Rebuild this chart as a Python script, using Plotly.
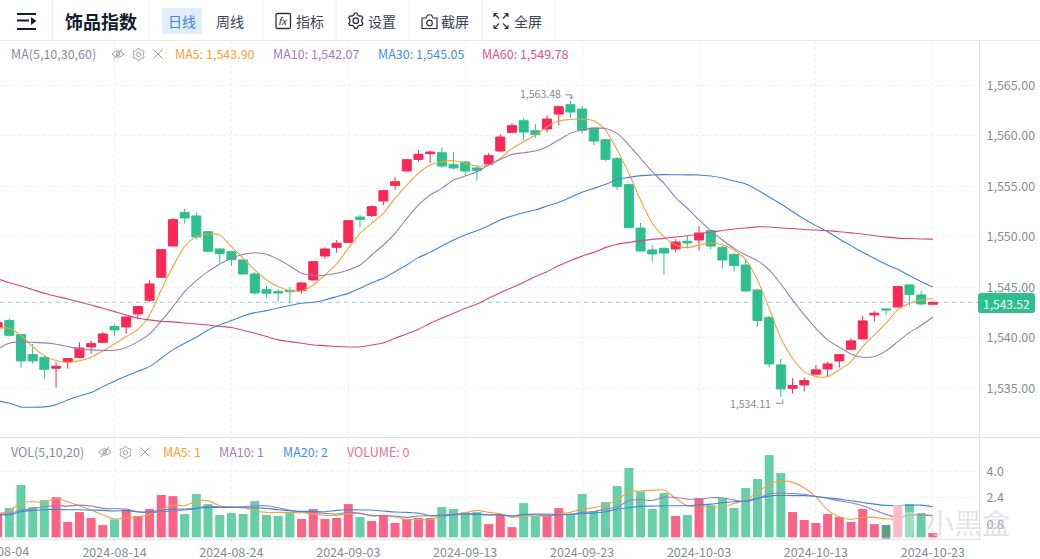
import math, re
import pandas as pd
import plotly.graph_objects as go

W, H = 1040, 559
dates = pd.date_range("2024-08-04", "2024-10-23")

opens = [
 1541.05,1541.71,1540.32,1538.34,1538.05,1536.99,1537.62,1538.05,1539.10,1539.56,
 1541.12,1541.08,1542.37,1543.72,1546.00,1549.10,1552.41,1552.08,1550.52,1548.81,
 1548.54,1547.72,1546.33,1544.78,1544.58,1544.71,1544.68,1545.74,1548.11,1548.97,
 1549.46,1551.97,1552.11,1553.56,1555.11,1556.53,1557.68,1558.25,1558.34,1557.16,
 1557.42,1556.83,1557.22,1558.51,1560.36,1561.51,1560.52,1560.69,1562.17,1563.10,
 1562.67,1560.79,1559.63,1557.75,1555.18,1550.88,1548.71,1548.87,1548.81,1549.57,
 1549.70,1550.62,1548.94,1548.25,1547.22,1544.75,1542.01,1537.32,1535.01,1535.34,
 1536.40,1536.92,1537.72,1538.87,1539.90,1542.27,1542.87,1543.06,1545.24,1544.25,
 1543.33]
highs = [
 1541.70,1541.94,1540.39,1539.40,1538.31,1537.58,1537.98,1539.56,1539.73,1540.62,
 1541.35,1542.21,1543.13,1545.70,1548.81,1551.88,1552.77,1552.44,1550.59,1548.85,
 1548.61,1547.75,1546.50,1545.18,1544.81,1545.01,1545.51,1547.62,1548.97,1549.70,
 1551.65,1552.17,1553.13,1554.60,1555.93,1557.72,1558.61,1558.54,1558.87,1558.41,
 1557.52,1557.09,1558.28,1560.19,1561.25,1561.78,1561.18,1562.04,1563.00,1563.48,
 1562.97,1560.82,1559.66,1557.91,1555.20,1551.38,1549.17,1548.94,1549.77,1550.10,
 1551.09,1550.72,1549.17,1548.44,1547.72,1544.77,1542.17,1537.95,1536.00,1536.10,
 1537.32,1537.62,1538.41,1539.96,1542.17,1542.63,1542.93,1545.14,1545.31,1544.62,
 1543.59]
lows = [
 1540.90,1540.13,1537.06,1537.45,1535.97,1535.07,1536.96,1537.98,1538.44,1539.53,
 1540.22,1540.39,1541.84,1543.56,1545.97,1549.07,1551.32,1549.76,1548.55,1547.45,
 1547.12,1546.30,1544.28,1543.92,1543.59,1543.43,1544.38,1545.70,1547.85,1548.44,
 1549.43,1550.92,1551.97,1553.16,1554.65,1556.50,1557.45,1557.32,1556.86,1556.69,
 1556.10,1555.57,1557.16,1558.44,1560.33,1559.60,1559.83,1560.32,1561.08,1561.78,
 1560.26,1559.10,1557.55,1554.65,1550.90,1548.57,1547.55,1546.27,1548.48,1548.87,
 1548.64,1548.77,1546.86,1546.56,1544.60,1541.12,1537.06,1534.11,1534.48,1534.68,
 1536.33,1536.16,1537.06,1538.77,1539.86,1541.61,1542.27,1543.03,1543.20,1543.20,
 1543.26]
closes = [
 1541.51,1540.26,1537.72,1537.72,1536.89,1537.19,1537.95,1539.00,1539.43,1540.39,
 1540.79,1542.07,1543.10,1545.34,1548.74,1551.71,1551.88,1550.00,1548.58,1548.35,
 1547.75,1546.33,1544.45,1544.42,1544.45,1544.58,1545.44,1547.55,1548.81,1549.37,
 1551.61,1551.74,1553.00,1554.58,1555.47,1557.65,1558.18,1558.41,1557.02,1556.83,
 1556.53,1556.59,1558.05,1559.90,1561.02,1560.39,1560.16,1561.68,1562.90,1562.37,
 1560.56,1559.50,1557.68,1555.01,1550.92,1548.61,1548.31,1548.41,1549.50,1549.40,
 1550.39,1549.10,1547.72,1547.16,1544.65,1541.71,1537.42,1534.94,1535.27,1535.77,
 1536.83,1537.42,1538.34,1539.70,1541.68,1542.44,1542.77,1545.08,1544.29,1543.36,
 1543.52]

ma5 = [
 1540.95,1540.95,1540.22,1539.14,1538.24,1537.75,1537.58,1537.72,1538.08,1538.71,
 1539.40,1540.13,1540.85,1542.27,1544.75,1547.06,1549.04,1550.03,1550.29,1550.19,
 1549.04,1547.88,1546.73,1545.74,1545.08,1544.68,1544.65,1545.24,1546.23,1547.32,
 1548.87,1550.36,1551.35,1552.34,1553.82,1555.14,1556.30,1557.12,1557.45,1557.55,
 1557.29,1557.02,1557.12,1557.78,1558.77,1559.43,1560.09,1560.92,1561.48,1561.65,
 1561.68,1561.51,1560.59,1558.61,1556.30,1553.66,1551.35,1550.03,1549.20,1548.94,
 1549.20,1549.43,1549.20,1548.71,1547.72,1545.74,1542.93,1539.96,1537.98,1536.66,
 1536.16,1536.16,1536.83,1537.65,1539.14,1540.29,1541.45,1542.77,1543.43,1543.76,
 1543.90]
ma10 = [
 1538.87,1539.47,1539.60,1539.56,1539.50,1539.37,1539.14,1538.90,1538.81,1538.77,
 1538.77,1539.04,1539.63,1540.39,1541.68,1543.10,1544.58,1545.67,1546.56,1547.32,
 1547.88,1548.28,1548.44,1548.28,1547.78,1547.12,1546.40,1546.20,1546.20,1546.40,
 1546.72,1547.22,1548.21,1549.20,1550.36,1551.84,1553.16,1554.15,1554.81,1555.64,
 1556.03,1556.46,1557.12,1557.68,1558.18,1558.34,1558.51,1558.94,1559.60,1560.26,
 1560.59,1560.75,1560.75,1560.26,1559.10,1557.78,1556.46,1555.31,1553.90,1552.84,
 1551.68,1550.62,1549.70,1548.87,1548.21,1547.65,1546.73,1545.34,1543.76,1542.27,
 1540.95,1539.80,1539.07,1538.41,1538.08,1538.15,1538.71,1539.63,1540.52,1541.22,
 1542.07]
ma30 = [
 1533.75,1533.52,1533.16,1533.13,1533.16,1533.39,1533.85,1534.25,1534.58,1535.17,
 1535.70,1536.23,1536.69,1537.15,1537.98,1538.81,1539.47,1540.06,1540.79,1541.28,
 1541.71,1542.17,1542.50,1542.70,1542.96,1543.20,1543.43,1543.53,1543.76,1544.09,
 1544.41,1544.91,1545.47,1545.90,1546.56,1547.22,1547.95,1548.47,1549.10,1549.70,
 1550.19,1550.62,1551.11,1551.68,1552.07,1552.40,1552.67,1553.06,1553.43,1553.92,
 1554.42,1554.81,1555.21,1555.70,1555.90,1556.07,1556.13,1556.17,1556.16,1556.15,
 1556.14,1556.04,1555.84,1555.54,1555.24,1554.65,1553.96,1553.26,1552.52,1551.78,
 1551.12,1550.52,1549.80,1549.14,1548.48,1547.88,1547.29,1546.79,1546.17,1545.57,
 1545.05]
ma60 = [
 1545.85,1545.47,1545.14,1544.78,1544.42,1544.12,1543.86,1543.56,1543.26,1542.93,
 1542.60,1542.27,1541.94,1541.78,1541.64,1541.58,1541.48,1541.38,1541.28,1541.15,
 1541.02,1540.75,1540.46,1540.13,1539.80,1539.63,1539.47,1539.30,1539.23,1539.14,
 1539.10,1539.10,1539.30,1539.50,1539.96,1540.39,1540.85,1541.45,1541.94,1542.44,
 1542.93,1543.36,1543.92,1544.48,1544.98,1545.51,1546.07,1546.56,1547.16,1547.65,
 1548.10,1548.47,1548.94,1549.27,1549.46,1549.63,1549.76,1549.86,1550.00,1550.12,
 1550.29,1550.49,1550.64,1550.79,1550.89,1551.00,1550.98,1550.89,1550.84,1550.74,
 1550.68,1550.62,1550.52,1550.40,1550.29,1550.12,1549.98,1549.88,1549.84,1549.80,
 1549.78]

volume = [
 1.45,1.77,3.16,1.83,2.25,2.43,0.93,1.53,1.17,0.74,
 1.09,1.67,1.29,1.71,2.56,2.49,1.41,2.62,2.01,1.35,
 1.47,1.41,2.19,1.35,1.29,1.47,1.11,1.71,1.11,1.17,
 2.01,1.23,0.99,1.35,0.87,1.11,1.17,1.17,1.83,1.71,
 1.53,1.53,0.80,1.41,0.62,2.07,1.29,1.35,1.77,1.41,
 2.62,1.59,2.13,3.10,4.19,2.78,1.71,2.68,1.29,1.35,
 2.37,1.95,2.37,1.77,2.98,3.52,4.97,3.88,1.53,1.05,
 0.87,1.41,1.23,0.93,1.71,0.80,0.74,1.89,2.01,1.47,
 0.26]
vol_ma5 = [
 1.45,1.59,2.11,2.15,2.13,2.35,2.15,1.91,1.65,1.35,
 1.11,1.19,1.25,1.39,1.65,1.95,1.91,2.19,2.21,1.91,
 1.83,1.83,1.59,1.51,1.51,1.51,1.49,1.41,1.33,1.33,
 1.43,1.45,1.29,1.35,1.23,1.07,1.09,1.07,1.29,1.39,
 1.49,1.63,1.51,1.43,1.21,1.29,1.29,1.29,1.41,1.51,
 1.71,1.79,1.95,2.25,2.76,2.80,2.84,2.86,2.35,1.91,
 1.91,1.85,1.85,2.05,2.25,2.72,3.20,3.40,3.32,3.00,
 2.45,1.65,1.25,1.09,1.21,1.21,1.11,1.15,1.35,1.35,
 1.35]
vol_ma10 = [
 1.39,1.45,1.63,1.75,1.85,1.91,1.89,1.95,1.89,1.75,
 1.73,1.71,1.55,1.49,1.55,1.59,1.65,1.75,1.89,1.83,
 1.83,1.85,1.91,1.91,1.79,1.63,1.55,1.51,1.45,1.41,
 1.51,1.45,1.33,1.31,1.29,1.21,1.29,1.31,1.29,1.35,
 1.41,1.43,1.37,1.37,1.29,1.39,1.41,1.41,1.39,1.39,
 1.51,1.55,1.71,1.83,2.21,2.29,2.23,2.43,2.41,2.31,
 2.31,2.39,2.39,2.25,2.15,2.35,2.62,2.68,2.64,2.60,
 2.47,2.35,2.21,2.09,1.91,1.65,1.39,1.19,1.35,1.35,
 1.29]
vol_ma20 = [
 1.39,1.35,1.55,1.63,1.67,1.69,1.67,1.67,1.65,1.63,
 1.59,1.63,1.53,1.55,1.63,1.71,1.71,1.75,1.81,1.81,
 1.81,1.79,1.79,1.75,1.67,1.61,1.57,1.57,1.55,1.63,
 1.67,1.65,1.65,1.59,1.53,1.51,1.47,1.31,1.35,1.39,
 1.41,1.39,1.35,1.35,1.29,1.37,1.37,1.35,1.35,1.39,
 1.43,1.47,1.55,1.71,1.79,1.87,1.89,1.91,1.91,1.91,
 1.95,2.01,2.09,2.15,2.21,2.35,2.49,2.54,2.52,2.52,
 2.47,2.39,2.31,2.21,2.11,2.01,1.93,1.91,1.95,1.95,
 1.85]

price_ticks = [1535, 1540, 1545, 1550, 1555, 1560, 1565]
vol_ticks = [0.8, 2.4, 4.0]
last_price = 1543.52
high_label, low_label = "1,563.48", "1,534.11"
legend_main = [("MA5: 1,543.90", "#f5a234", 175), ("MA10: 1,542.07", "#a679c5", 273),
               ("MA30: 1,545.05", "#3f8fe8", 378), ("MA60: 1,549.78", "#e0528a", 482)]
legend_vol = [("MA5: 1", "#f5a234", 163), ("MA10: 1", "#a679c5", 219),
              ("MA20: 2", "#3f8fe8", 283), ("VOLUME: 0", "#ee6f92", 347)]

UP, DOWN = "#f92855", "#2dc08e"
VUP, VDOWN = "#fb6485", "#66cfa7"
C5, C10, C30, C60 = "#f2a33c", "#9d7cb8", "#3f86dc", "#d6487f"
TXT = "#868b96"
GRID = "#eef0f2"
AXIS = "#dfe2e6"
FONT = "Noto Sans CJK SC, Noto Sans, sans-serif"
XR = ["2024-08-04 04:55", "2024-10-26 22:48"]
PLOT_R = 979 / W


def fx(x): return x / W
def fy(y): return 1 - y / H


def pp(s):
    return re.sub(r"(-?[\d.]+),(-?[\d.]+)",
                  lambda m: f"{fx(float(m[1])):.5f},{fy(float(m[2])):.5f}", s)


shapes, notes = [], []


def path(s, line=None, fill=None, width=1.0, layer="above"):
    shapes.append(dict(type="path", xref="paper", yref="paper", path=pp(s), layer=layer,
                       fillcolor=fill or "rgba(0,0,0,0)",
                       line=dict(color=line or "rgba(0,0,0,0)", width=width if line else 0)))


def circ(cx, cy, r, line, width=1.0, fill=None):
    shapes.append(dict(type="circle", xref="paper", yref="paper", x0=fx(cx - r), x1=fx(cx + r),
                       y0=fy(cy + r), y1=fy(cy - r), line=dict(color=line, width=width),
                       fillcolor=fill or "rgba(0,0,0,0)"))


def text(t, x, y, color, size, anchor="left", bold=False, family=FONT):
    notes.append(dict(xref="paper", yref="paper", x=fx(x), y=fy(y), text=f"<b>{t}</b>" if bold else t,
                      showarrow=False, xanchor=anchor, yanchor="middle",
                      font=dict(color=color, size=size, family=family), borderpad=0, borderwidth=0))


def gear(cx, cy, r, color, w=1.2):
    pts = []
    for i in range(24):
        a = math.radians(i * 15 - 90 + 7.5)
        rr = r if i % 4 in (0, 3) else r * 0.78
        pts.append(f"{cx + rr * math.cos(a):.2f},{cy + rr * math.sin(a):.2f}")
    path("M" + " L".join(pts) + " Z", line=color, width=w)
    circ(cx, cy, r * 0.36, color, w)


def eye(cx, cy, color):
    path(f"M{cx-6},{cy} Q{cx},{cy-6.5} {cx+6},{cy} Q{cx},{cy+6.5} {cx-6},{cy} Z", line=color, width=1)
    circ(cx, cy, 1.8, color, 1)
    path(f"M{cx-4},{cy+5} L{cx+4},{cy-5}", line=color, width=1)


def cross(cx, cy, r, color):
    path(f"M{cx-r},{cy-r} L{cx+r},{cy+r} M{cx-r},{cy+r} L{cx+r},{cy-r}", line=color, width=1)


# ---- toolbar
DARK = "#161d33"
for x in (52.5, 149, 263, 336, 409, 482, 555):
    path(f"M{x},0 L{x},40", line="#eef0f2")
path("M0,40.5 L1040,40.5", line="#e6e8eb")
path("M0,437.5 L1040,437.5", line="#dfe2e6")
path("M17,14 L36,14 M17,20.5 L29,20.5 M17,29 L36,29", line=DARK, width=2)
path("M31,17 L36.5,21 L31,25 Z", fill=DARK)
text("饰品指数", 65, 21.5, DARK, 18, bold=True)
path("M164,8 L200,8 Q202,8 202,10 L202,32 Q202,34 200,34 L164,34 Q162,34 162,32 L162,10 Q162,8 164,8 Z",
     fill="#e1edfb", layer="below")
text("日线", 182, 21, "#4285e6", 14, "center")
text("周线", 230, 21, "#3d4352", 14, "center")
path("M277.5,13.5 L289,13.5 Q290.5,13.5 290.5,15 L290.5,27 Q290.5,28.5 289,28.5 L277.5,28.5 Q276,28.5 276,27 L276,15 Q276,13.5 277.5,13.5 Z",
     line="#2b3142", width=1.3)
text("<i>fx</i>", 283.3, 20.5, "#2b3142", 10, "center")
text("指标", 309.5, 21, "#3d4352", 14, "center")
gear(355.8, 20.7, 7.6, "#2b3142", 1.3)
text("设置", 382, 21, "#3d4352", 14, "center")
path("M422,18 L426,18 L427.5,15 L431.5,15 L433,18 L437,18 L437,28.5 L422,28.5 Z", line="#2b3142", width=1.2)
circ(429.5, 23, 2.8, "#2b3142", 1.2)
text("截屏", 455, 21, "#3d4352", 14, "center")
path("M494,13.5 L499,18.5 M494,13.5 L494,17 M494,13.5 L497.5,13.5 "
     "M508,13.5 L503,18.5 M508,13.5 L508,17 M508,13.5 L504.5,13.5 "
     "M494,28.5 L499,23.5 M494,28.5 L494,25 M494,28.5 L497.5,28.5 "
     "M508,28.5 L503,23.5 M508,28.5 L508,25 M508,28.5 L504.5,28.5", line="#2b3142", width=1.2)
text("全屏", 527.5, 21, "#3d4352", 14, "center")

# ---- pane legends
text("MA(5,10,30,60)", 11, 53.5, TXT, 12.5)
eye(118, 54, "#9aa0aa"); gear(138.5, 54.5, 6, "#9aa0aa", 1); cross(158, 54, 4.5, "#9aa0aa")
for t, c, x in legend_main:
    text(t, x, 53.5, c, 12.5)
text("VOL(5,10,20)", 11, 451.5, TXT, 12.5)
eye(105, 452, "#9aa0aa"); gear(125.5, 452.5, 6, "#9aa0aa", 1); cross(145, 452, 4.5, "#9aa0aa")
for t, c, x in legend_vol:
    text(t, x, 451.5, c, 12.5)

# ---- last price
shapes.append(dict(type="line", xref="x domain", yref="y", x0=0, x1=1, y0=last_price, y1=last_price,
                   line=dict(color="#8fdabd", width=1, dash="4px,4px"), layer="below"))
path("M981,293 L1032,293 Q1035,293 1035,296 L1035,310 Q1035,313 1032,313 L981,313 Q978,313 978,310 L978,296 Q978,293 981,293 Z",
     fill=DOWN)
text("1,543.52", 1006.5, 303, "white", 12, "center")

# ---- extreme labels
notes.append(dict(xref="x", yref="y", x="2024-09-22", y=1563.48, text=high_label, showarrow=False,
                  xanchor="right", yanchor="middle", xshift=-7, yshift=7,
                  font=dict(color=TXT, size=10.5, family=FONT)))
notes.append(dict(xref="x", yref="y", x="2024-10-10", y=1534.11, text=low_label, showarrow=False,
                  xanchor="right", yanchor="middle", xshift=-8, yshift=-6,
                  font=dict(color=TXT, size=10.5, family=FONT)))
shapes.append(dict(type="path", xref="x", yref="y", xsizemode="pixel", ysizemode="pixel",
                   xanchor="2024-09-22", yanchor=1563.48,
                   path="M-5,6 L1,6 L1,2 M-1,4 L1,2 L3,4", line=dict(color="#8a8f99", width=1)))
shapes.append(dict(type="path", xref="x", yref="y", xsizemode="pixel", ysizemode="pixel",
                   xanchor="2024-10-10", yanchor=1534.11,
                   path="M-5,-6 L2,-6 L2,-2", line=dict(color="#8a8f99", width=1)))

# ---- clipped first date label
text("2024-08-04", -3.5, 550.5, TXT, 12.5, "center")

# ---- watermark
path("M882,525 L890,525 L890,539 L882,539 Z", fill="rgba(90,90,90,0.45)")
path("M893,505 L905,505 L905,539 L893,539 Z", fill="rgba(255,255,255,0.55)")
path("M905,512 L918,512 L912,539 L905,539 Z", fill="rgba(255,255,255,0.35)")
text("小黑盒", 968, 522, "rgba(214,217,222,0.7)", 28, "center")

fig = go.Figure()
fig.add_trace(go.Candlestick(x=dates, open=opens, high=highs, low=lows, close=closes,
                             increasing=dict(line=dict(color=UP, width=1), fillcolor=UP),
                             decreasing=dict(line=dict(color=DOWN, width=1), fillcolor=DOWN),
                             whiskerwidth=0, hoverinfo="skip", xaxis="x", yaxis="y"))
for vals, c in ((ma5, C5), (ma10, C10), (ma30, C30), (ma60, C60)):
    fig.add_trace(go.Scatter(x=dates, y=vals, mode="lines", hoverinfo="skip", xaxis="x", yaxis="y",
                             line=dict(color=c, width=1.1, shape="spline", smoothing=0.7)))
fig.add_trace(go.Bar(x=dates, y=volume, width=9 / 11.69 * 86400000, hoverinfo="skip", xaxis="x2", yaxis="y2",
                     marker=dict(color=[VUP if c >= o else VDOWN for o, c in zip(opens, closes)], line_width=0)))
for vals, c in ((vol_ma5, C5), (vol_ma10, C10), (vol_ma20, C30)):
    fig.add_trace(go.Scatter(x=dates, y=vals, mode="lines", hoverinfo="skip", xaxis="x2", yaxis="y2",
                             line=dict(color=c, width=1.1, shape="spline", smoothing=0.7)))

fig.update_layout(
    width=W, height=H, autosize=False, margin=dict(l=0, r=0, t=0, b=0, autoexpand=False),
    paper_bgcolor="white", plot_bgcolor="white", showlegend=False, dragmode=False,
    hovermode=False, boxgap=0.23, boxgroupgap=0,
    font=dict(family=FONT, color=TXT, size=12),
    shapes=shapes, annotations=notes,
    xaxis=dict(domain=[0, PLOT_R], range=XR, type="date", anchor="y", tick0="2024-08-04", dtick=864000000,
               automargin=False, showticklabels=False, ticks="", showgrid=True, gridcolor=GRID, griddash="dot",
               gridwidth=1, rangeslider=dict(visible=False), fixedrange=True, zeroline=False),
    yaxis=dict(domain=[fy(437), fy(41)], range=[1530.18, 1569.41], side="right", anchor="x", automargin=False,
               tickvals=price_ticks, tickformat=",.2f", showline=True, linecolor=AXIS, linewidth=1,
               ticks="outside", ticklen=4, tickcolor="white", showgrid=True, gridcolor=GRID, griddash="dot",
               tickfont=dict(size=12.5, color=TXT, family=FONT), fixedrange=True, zeroline=False),
    xaxis2=dict(domain=[0, PLOT_R], range=XR, type="date", anchor="y2", tick0="2024-08-04", dtick=864000000,
                automargin=False, tickformat="%Y-%m-%d", showline=True, linecolor=AXIS, linewidth=1,
                ticks="outside", ticklen=2, tickcolor=AXIS, showgrid=True, gridcolor=GRID, griddash="dot",
                tickfont=dict(size=12.5, color=TXT, family=FONT), fixedrange=True, zeroline=False),
    yaxis2=dict(domain=[fy(539), fy(438)], range=[-0.097, 6.0], side="right", anchor="x2", automargin=False,
                tickvals=vol_ticks, tickformat=".1f", showline=True, linecolor=AXIS, linewidth=1,
                ticks="outside", ticklen=4, tickcolor="white", showgrid=True, gridcolor=GRID, griddash="dot",
                tickfont=dict(size=12.5, color=TXT, family=FONT), fixedrange=True, zeroline=False),
)

fig.write_html("out.html", config=dict(displayModeBar=False),
               post_script="document.body.style.margin='0';document.body.style.overflow='hidden';")
